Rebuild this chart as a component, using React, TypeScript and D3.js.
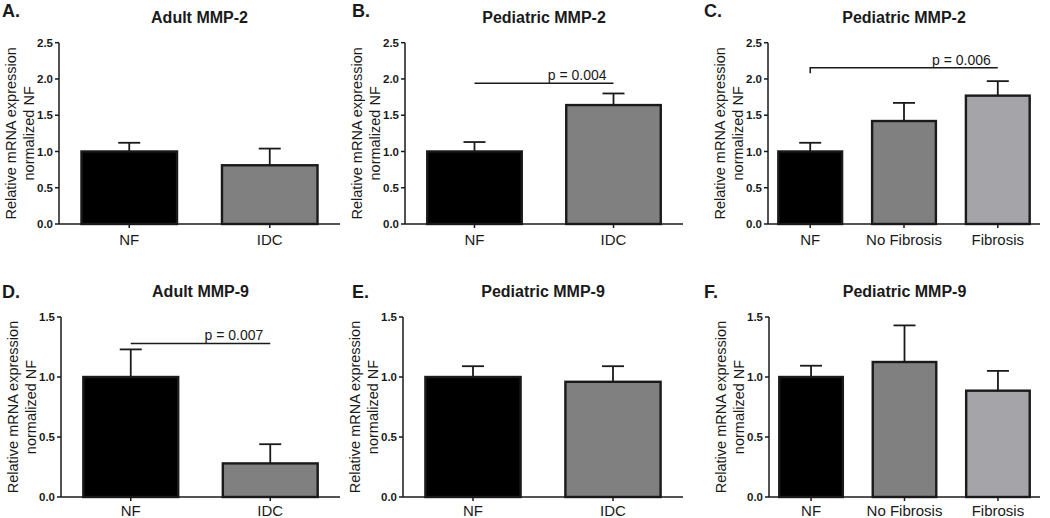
import React from "react";
import * as d3 from "d3";

// Data (mean and upper SEM per group)
const twoGroups = ["NF", "IDC"];
const threeGroups = ["NF", "No Fibrosis", "Fibrosis"];

const adultMmp2Mean = [1.0, 0.81];
const adultMmp2Err = [0.12, 0.23];
const pedMmp2Mean = [1.0, 1.64];
const pedMmp2Err = [0.13, 0.16];
const pedMmp2FibMean = [1.0, 1.42, 1.77];
const pedMmp2FibErr = [0.12, 0.25, 0.2];
const adultMmp9Mean = [1.0, 0.28];
const adultMmp9Err = [0.23, 0.16];
const pedMmp9Mean = [1.0, 0.96];
const pedMmp9Err = [0.09, 0.13];
const pedMmp9FibMean = [1.0, 1.125, 0.886];
const pedMmp9FibErr = [0.094, 0.305, 0.165];

const mmp2Ticks = [0, 0.5, 1.0, 1.5, 2.0, 2.5];
const mmp9Ticks = [0, 0.5, 1.0, 1.5];

const fills: Record<string, string> = {
  NF: "#000000",
  IDC: "#808080",
  "No Fibrosis": "#808080",
  Fibrosis: "#a5a5a9",
};

const FONT = "Arial, 'Liberation Sans', Helvetica, sans-serif";
const INK = "#1a1a1a";

type Sig = { from: number; to: number; y: number; label: string; drop?: number };

type PanelProps = {
  letter: string;
  title: string;
  cats: string[];
  means: number[];
  errs: number[];
  ticks: number[];
  x0: number;
  x1: number;
  yTop: number;
  yBottom: number;
  letterX: number;
  letterY: number;
  titleY: number;
  labelY: number;
  sig?: Sig;
};

const Panel = ({
  letter, title, cats, means, errs, ticks, x0, x1, yTop, yBottom, letterX, letterY, titleY, labelY, sig,
}: PanelProps) => {
  const y = d3.scaleLinear().domain([0, d3.max(ticks) as number]).range([yBottom, yTop]);
  const x = d3
    .scaleBand()
    .domain(cats)
    .range([x0, x1])
    .paddingInner(0.32)
    .paddingOuter(cats.length === 2 ? 0.16 : 0.11);
  const bw = x.bandwidth();
  const cap = 11;
  const midY = (yTop + yBottom) / 2;
  const cx = (c: string) => (x(c) as number) + bw / 2;

  return (
    <g fontFamily={FONT}>
      <text x={letterX} y={letterY} fontSize={18} fontWeight="bold" fill={INK}>
        {letter}
      </text>
      <text x={(x0 + x1) / 2} y={titleY} fontSize={16} fontWeight="bold" fill={INK} textAnchor="middle">
        {title}
      </text>

      {/* y axis title, two lines */}
      <text transform={`translate(${x0 - 43},${midY}) rotate(-90)`} fontSize={14.5} fill={INK} textAnchor="middle">
        Relative mRNA expression
      </text>
      <text transform={`translate(${x0 - 25},${midY}) rotate(-90)`} fontSize={14.5} fill={INK} textAnchor="middle">
        normalized NF
      </text>

      {/* bars with upward error bars */}
      {cats.map((c, i) => (
        <g key={c}>
          <line x1={cx(c)} x2={cx(c)} y1={y(means[i])} y2={y(means[i] + errs[i])} stroke={INK} strokeWidth={1.8} />
          <line
            x1={cx(c) - cap}
            x2={cx(c) + cap}
            y1={y(means[i] + errs[i])}
            y2={y(means[i] + errs[i])}
            stroke={INK}
            strokeWidth={1.8}
          />
          <rect
            x={x(c) as number}
            y={y(means[i])}
            width={bw}
            height={yBottom - y(means[i])}
            fill={fills[c]}
            stroke={INK}
            strokeWidth={2.4}
          />
        </g>
      ))}

      {/* y axis */}
      <line x1={x0} x2={x0} y1={yTop} y2={yBottom} stroke={INK} strokeWidth={1.5} />
      {ticks.map((t) => (
        <g key={t}>
          <line x1={x0 - 4} x2={x0} y1={y(t)} y2={y(t)} stroke={INK} strokeWidth={1.5} />
          <text x={x0 - 6} y={y(t)} dy="0.35em" fontSize={11.5} fontWeight="bold" fill={INK} textAnchor="end">
            {t.toFixed(1)}
          </text>
        </g>
      ))}

      {/* x axis */}
      <line x1={x0} x2={x1} y1={yBottom} y2={yBottom} stroke={INK} strokeWidth={1.5} />
      {cats.map((c) => (
        <g key={c}>
          <line x1={cx(c)} x2={cx(c)} y1={yBottom} y2={yBottom + 4} stroke={INK} strokeWidth={1.5} />
          <text x={cx(c)} y={labelY} fontSize={15} fill={INK} textAnchor="middle">
            {c}
          </text>
        </g>
      ))}

      {/* significance line */}
      {sig && (
        <g>
          <path
            d={
              sig.drop !== undefined
                ? `M${cx(cats[sig.from])},${y(sig.drop)}V${y(sig.y)}H${cx(cats[sig.to])}`
                : `M${cx(cats[sig.from])},${y(sig.y)}H${cx(cats[sig.to])}`
            }
            fill="none"
            stroke={INK}
            strokeWidth={1.5}
          />
          <text x={cx(cats[sig.to]) - 7} y={y(sig.y) - 3} fontSize={14} fill={INK} textAnchor="end">
            {sig.label}
          </text>
        </g>
      )}
    </g>
  );
};

export default function App() {
  const top = { yTop: 42.7, yBottom: 224, letterY: 17, titleY: 23, labelY: 245 };
  const bot = { yTop: 317, yBottom: 497, letterY: 298, titleY: 297, labelY: 516 };
  return (
    <svg width={1050} height={518} style={{ position: "absolute", left: 0, top: 0, background: "#fff" }}>
      <Panel letter="A." title="Adult MMP-2" cats={twoGroups} means={adultMmp2Mean} errs={adultMmp2Err}
        ticks={mmp2Ticks} x0={59} x1={340} letterX={2} {...top} />
      <Panel letter="B." title="Pediatric MMP-2" cats={twoGroups} means={pedMmp2Mean} errs={pedMmp2Err}
        ticks={mmp2Ticks} x0={405} x1={683} letterX={352} {...top}
        sig={{ from: 0, to: 1, y: 1.94, label: "p = 0.004" }} />
      <Panel letter="C." title="Pediatric MMP-2" cats={threeGroups} means={pedMmp2FibMean} errs={pedMmp2FibErr}
        ticks={mmp2Ticks} x0={768} x1={1040} letterX={704} {...top}
        sig={{ from: 0, to: 2, y: 2.155, drop: 2.08, label: "p = 0.006" }} />
      <Panel letter="D." title="Adult MMP-9" cats={twoGroups} means={adultMmp9Mean} errs={adultMmp9Err}
        ticks={mmp9Ticks} x0={61} x1={340} letterX={2} {...bot}
        sig={{ from: 0, to: 1, y: 1.28, label: "p = 0.007" }} />
      <Panel letter="E." title="Pediatric MMP-9" cats={twoGroups} means={pedMmp9Mean} errs={pedMmp9Err}
        ticks={mmp9Ticks} x0={403} x1={683} letterX={352} {...bot} />
      <Panel letter="F." title="Pediatric MMP-9" cats={threeGroups} means={pedMmp9FibMean} errs={pedMmp9FibErr}
        ticks={mmp9Ticks} x0={769} x1={1040} letterX={704} {...bot} />
    </svg>
  );
}
